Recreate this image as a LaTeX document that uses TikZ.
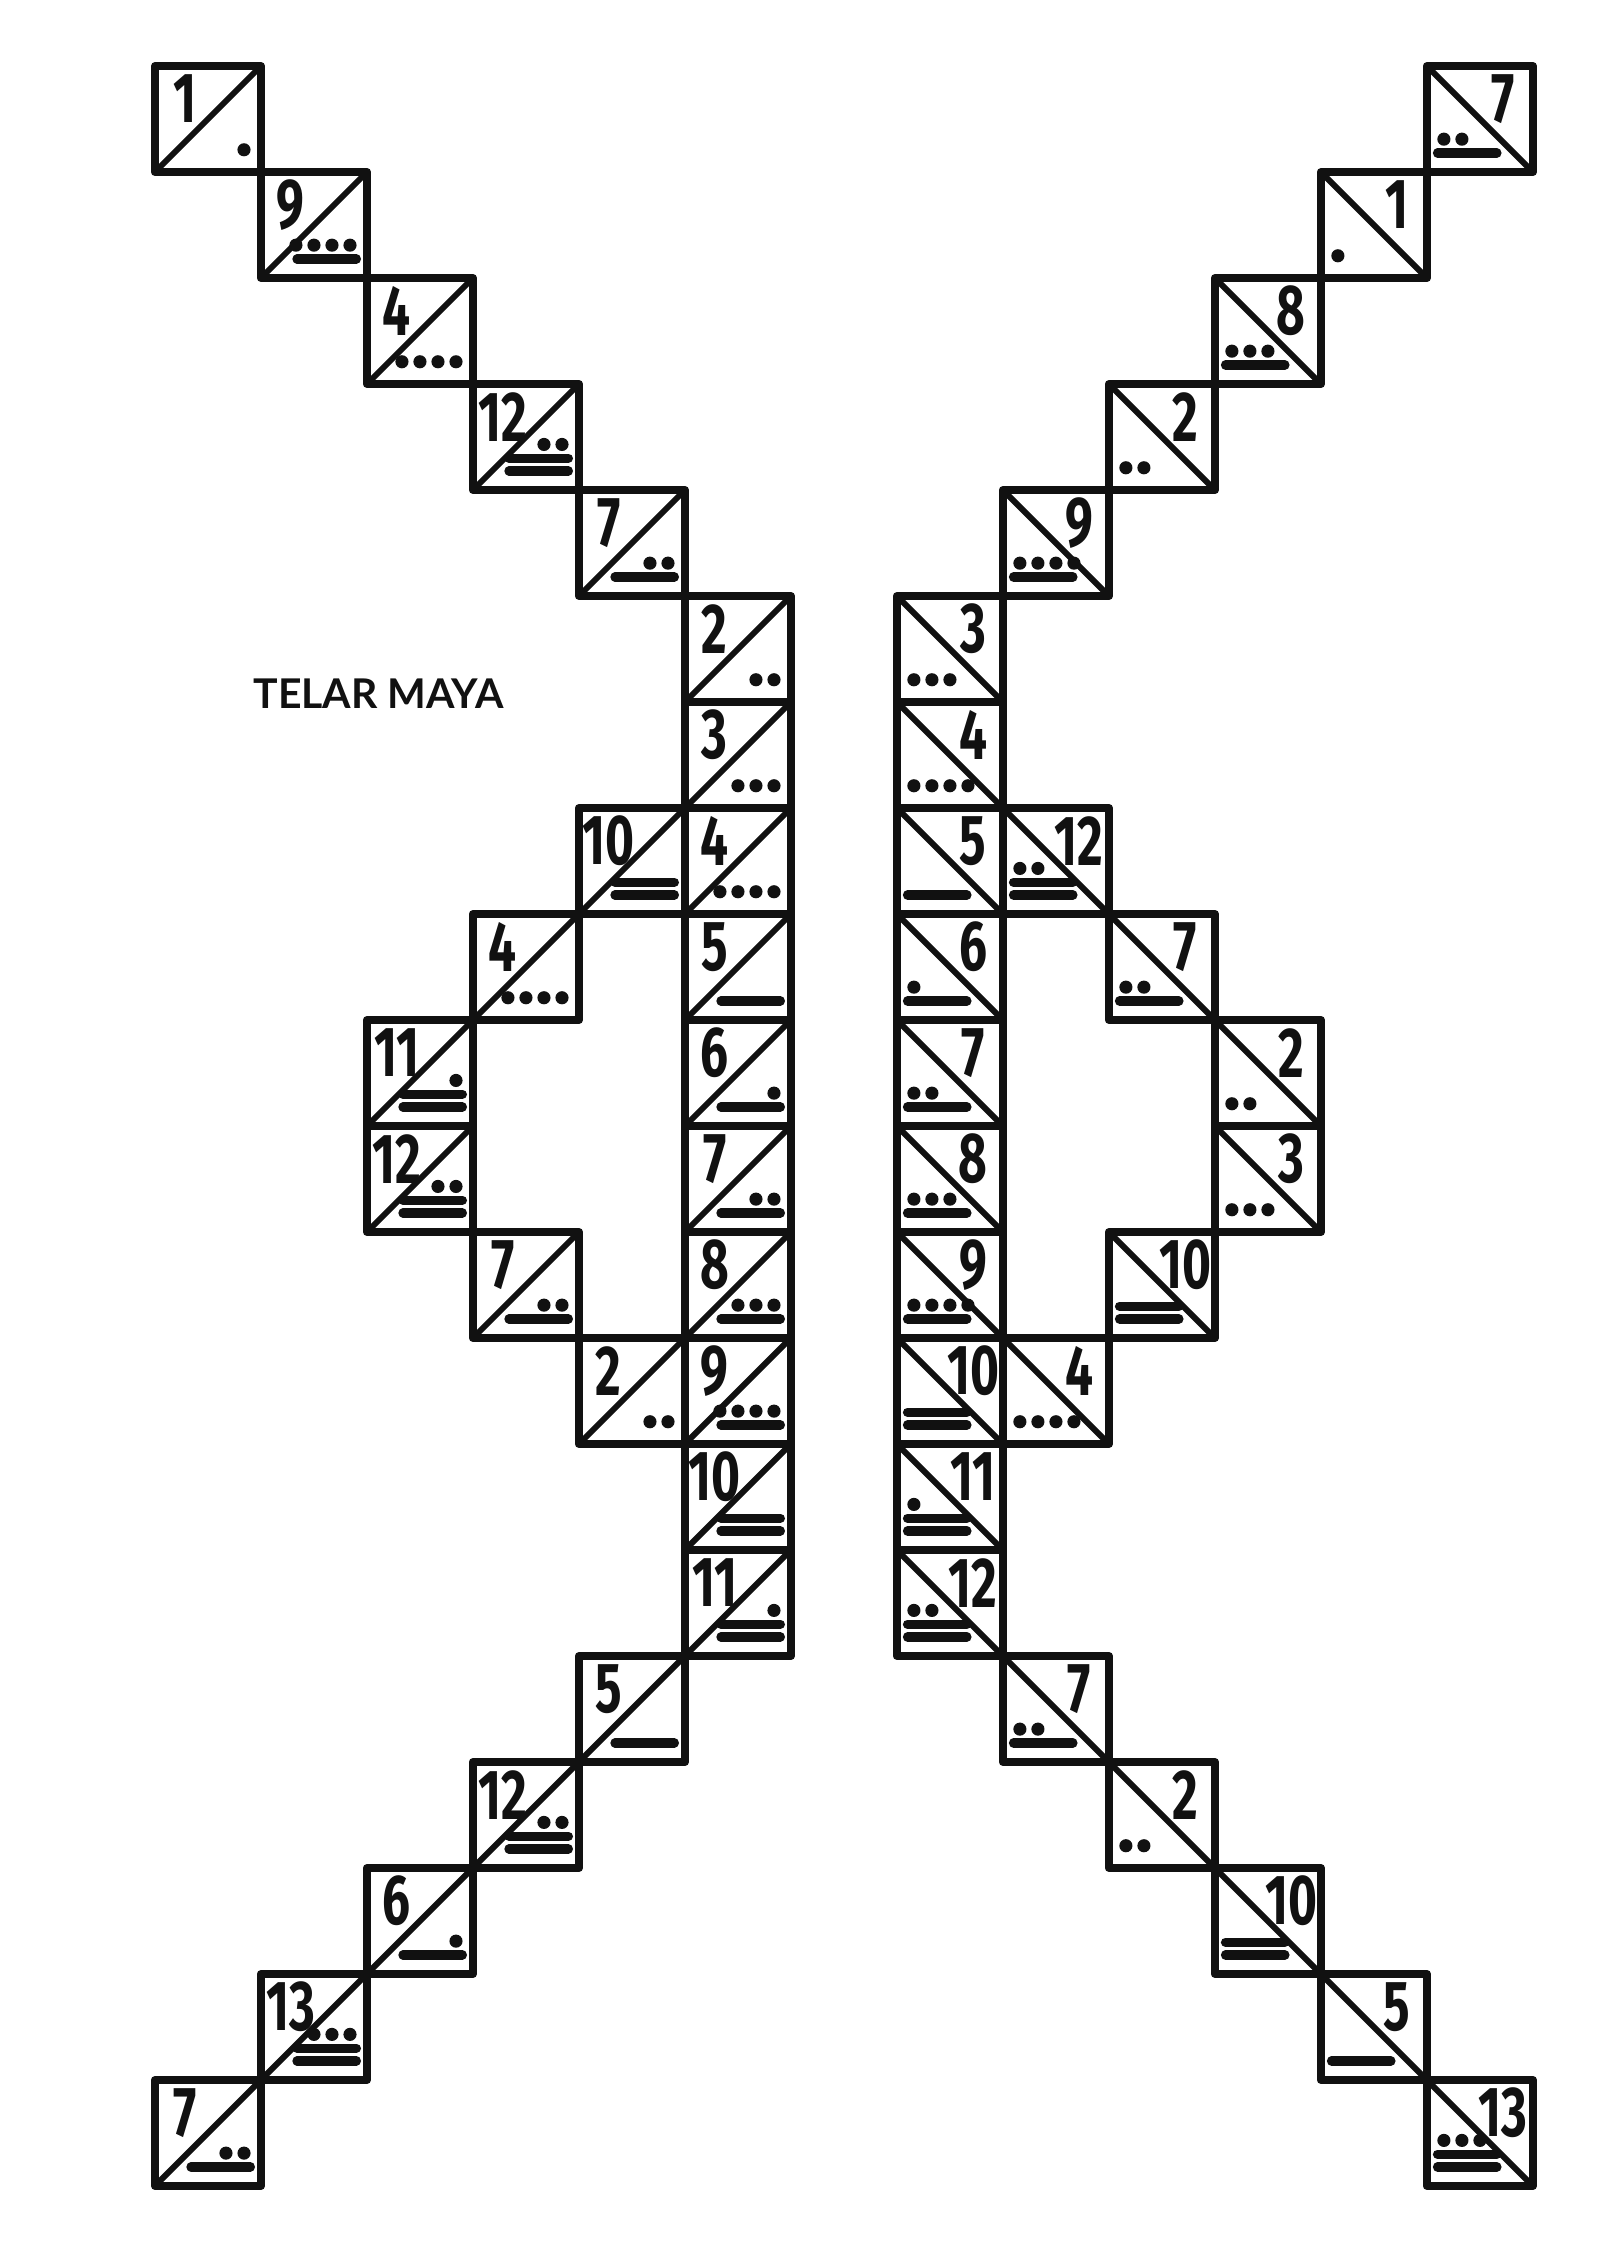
\documentclass[tikz,border=0pt]{standalone}
\usepackage{fontspec}
\usepackage{tikz}
\usetikzlibrary{calc}
\definecolor{ink}{HTML}{111111}
\newfontfamily\handfont[FakeStretch=0.7]{Fira Sans}
\newfontfamily\titlefont{Lato}
% one square of the loom: #1 column, #2 row, #3 day number, #4 side (1 or -1)
\newcommand{\loomcell}[4]{%
  \begin{scope}[shift={(#1+0.5,-#2)},xscale=#4]
    \draw[cellline] (-0.5,0) rectangle (0.5,-1);
    \draw[diagline] (-0.5,-1) -- (0.5,0);
    \node[numtext] (n-#1-#2) at (-0.22,-0.31) {#3};
    \pgfmathtruncatemacro{\nbars}{int(#3/5)}
    \pgfmathtruncatemacro{\ndots}{#3-5*\nbars}
    \ifnum\nbars>0
      \foreach \b in {1,...,\nbars}
        \draw[barline] (-0.16,{-0.82+(\b-1)*0.12}) -- (0.4,{-0.82+(\b-1)*0.12});
      \pgfmathsetmacro{\doty}{-0.82+(\nbars-1)*0.12+0.13}
    \else
      \def\doty{-0.79}
    \fi
    \ifnum\ndots>0
      \foreach \d in {1,...,\ndots}
        \fill[ink] ({0.34-(\ndots-\d)*0.17},\doty) circle (0.062);
    \fi
  \end{scope}}

\begin{document}
\begin{tikzpicture}[x=1cm,y=1cm,
    cellline/.style={ink,line width=2.2pt,line join=round},
    diagline/.style={ink,line width=1.6pt},
    barline/.style={ink,line width=2.5pt,line cap=round},
    numtext/.style={ink,font=\handfont\bfseries\fontsize{19}{19}\selectfont,inner sep=0pt},
    titletext/.style={ink,font=\titlefont\bfseries\fontsize{11}{12}\selectfont}]
  \useasboundingbox (-1.462,0.623) rectangle (13.708,-20.623);
  % left half
  \foreach \cx/\ry/\nv in {0/0/1,1/1/9,2/2/4,3/3/12,4/4/7,5/5/2,5/6/3,4/7/10,5/7/4,
      3/8/4,5/8/5,2/9/11,5/9/6,2/10/12,5/10/7,3/11/7,5/11/8,4/12/2,5/12/9,
      5/13/10,5/14/11,4/15/5,3/16/12,2/17/6,1/18/13,0/19/7}
    \loomcell{\cx}{\ry}{\nv}{1};
  % right half
  \foreach \cx/\ry/\nv in {12/0/7,11/1/1,10/2/8,9/3/2,8/4/9,7/5/3,7/6/4,7/7/5,8/7/12,
      7/8/6,9/8/7,7/9/7,10/9/2,7/10/8,10/10/3,7/11/9,9/11/10,7/12/10,8/12/4,
      7/13/11,7/14/12,8/15/7,9/16/2,10/17/10,11/18/5,12/19/13}
    \loomcell{\cx}{\ry}{\nv}{-1};
  \node[titletext] (title) at (2.11,-5.92) {TELAR MAYA};
\end{tikzpicture}
\end{document}
